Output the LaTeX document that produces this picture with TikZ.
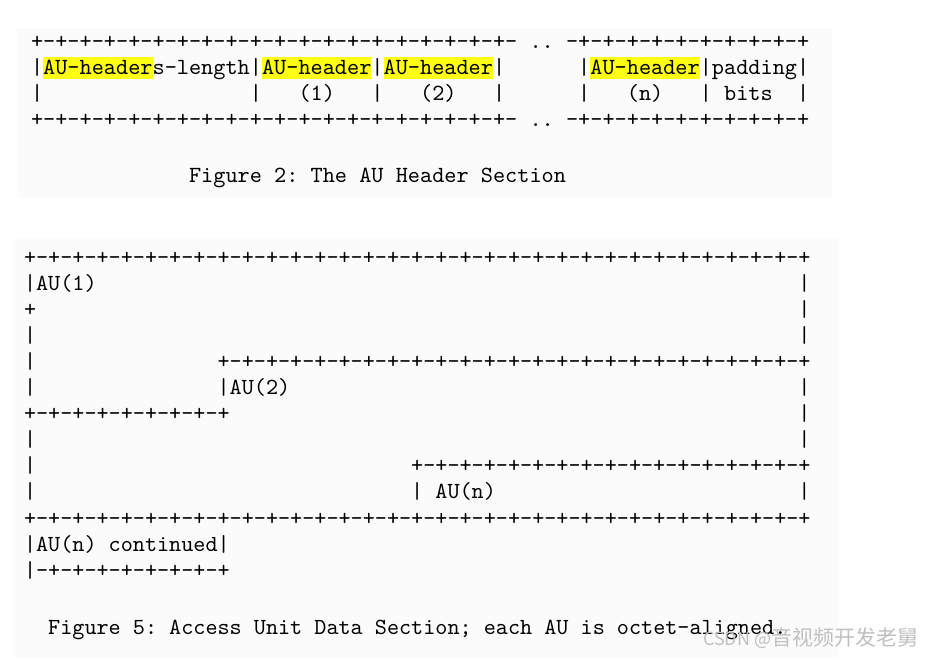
\documentclass[tikz,border=0pt]{standalone}
\usepackage{fontspec}
\setmonofont{lmmono10-regular.otf}
\newfontfamily\wmfont{Noto Sans CJK SC}
\definecolor{hilite}{RGB}{255,255,20}
\definecolor{panel}{RGB}{251,251,251}
\definecolor{wmark}{RGB}{192,192,192}
\newcommand\tenrun{+-+-+-+-+-}

\begin{document}
\begin{tikzpicture}[x=1pt, y=-1pt,
    txt/.style = {anchor=base west, inner sep=0pt, outer sep=0pt,
                font=\fontsize{#1}{#1}\selectfont\ttfamily},
    txt/.default = 23.16  % gives one column of 12.16pt
                    ]
        \useasboundingbox (0,0) rectangle (925,660);
        \fill[panel] (17,28) rectangle (832,197);
        \fill[panel] (15,238) rectangle (838,657);
        % Figure 2
        \def\dx{31}
        \def\pw{12.16}
        \foreach \c/\n in {1/9, 19/27, 29/37, 46/54}
            \fill[hilite] (\dx+\c*\pw,57) rectangle (\dx+\n*\pw+\pw,79);
        \foreach \r/\y in {1/49, 4/127} {
            \node[txt] (h\r a) at (\dx,\y) {\tenrun\tenrun\tenrun\tenrun};
            \node[txt] (h\r b) at (\dx+41*\pw,\y) {..};
            \node[txt] (h\r c) at (\dx+44*\pw,\y) {-+-+-+-+-+-+-+-+-+-+};
        }
        \node[txt] (h2a) at (\dx,75) {|AU-headers-length|AU-header|AU-header|};
        \node[txt] (h2b) at (\dx+45*\pw,75) {|AU-header|padding|};
        \foreach \c/\t in {0/|, 18/|, 22/(1), 28/|, 32/(2), 38/|, 45/|, 49/(n), 55/|, 57/bits, 63/|}
            \node[txt] (h3-\c) at (\dx+\c*\pw,101) {\t};
        \node[txt] (cap2) at (\dx+13*\pw,183) {Figure 2: The AU Header Section};
        % Figure 5
        \def\dx{24}
        \def\pw{12.1}
        \foreach \r/\c/\t in {0/0/{\tenrun\tenrun\tenrun\tenrun\tenrun\tenrun+-+-+},
                1/0/{|AU(1)}, 1/64/|,
                2/0/+, 2/64/|, 3/0/|, 3/64/|,
                4/0/|, 4/16/{\tenrun\tenrun\tenrun\tenrun+-+-+-+-+},
                5/0/|, 5/16/{|AU(2)}, 5/64/|,
                6/0/{\tenrun+-+-+-+}, 6/64/|, 7/0/|, 7/64/|,
                8/0/|, 8/32/{\tenrun\tenrun\tenrun+-+},
                9/0/|, 9/32/{| AU(n)}, 9/64/|,
                10/0/{\tenrun\tenrun\tenrun\tenrun\tenrun\tenrun+-+-+},
                11/0/{|AU(n) continued|},
                12/0/{|-+-+-+-+-+-+-+-+}}
            \node[txt=23.05] (d\r-\c) at (\dx+\c*\pw,264+\r*26.1) {\t};
        \node[txt=23.05] (cap5) at (\dx+2*\pw,634)
            {Figure 5: Access Unit Data Section; each AU is octet-aligned.};
        \node[anchor=base west, inner sep=0pt, text=wmark, font=\wmfont] (wm) at (703,645)
            {\fontsize{18}{18}\selectfont CSDN @\fontsize{21}{21}\selectfont 音视频开发老舅};
    \end{tikzpicture}
\end{document}
